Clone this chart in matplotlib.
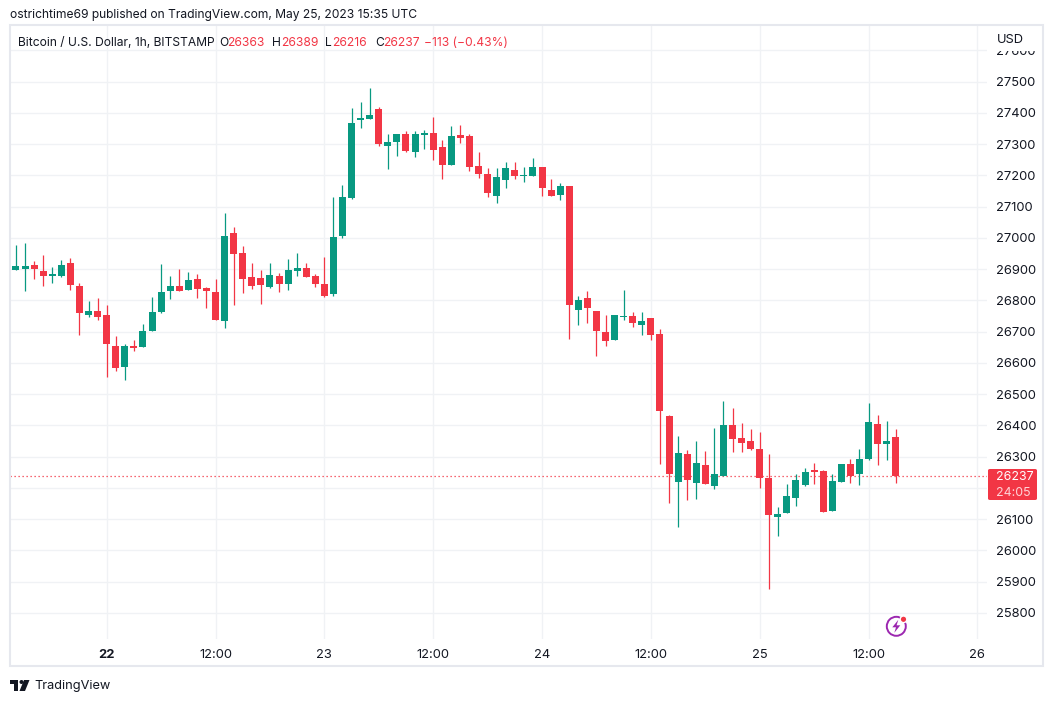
import numpy as np
import pandas as pd
import matplotlib
matplotlib.use("Agg")
import matplotlib.pyplot as plt
import matplotlib.dates as mdates
from matplotlib.patches import Rectangle, Ellipse, Polygon, FancyBboxPatch

W, H = 1053, 702

# BTC/USD 1h candles, BITSTAMP, from 2023-05-21 14:00 UTC
start = "2023-05-21 14:00"
opens = [26898, 26902, 26913, 26894, 26879, 26879, 26920, 26846, 26755, 26766,
         26753, 26654, 26588, 26654, 26652, 26703, 26764, 26831, 26846, 26835,
         26869, 26840, 26827, 26735, 27016, 26952, 26875, 26872, 26844, 26878,
         26854, 26895, 26904, 26878, 26853, 26821, 27007, 27129, 27379, 27382,
         27413, 27295, 27308, 27333, 27276, 27331, 27336, 27291, 27235, 27329,
         27326, 27230, 27205, 27135, 27187, 27217, 27199, 27199, 27227, 27153,
         27139, 27166, 26771, 26808, 26766, 26699, 26675, 26748, 26750, 26721,
         26744, 26693, 26430, 26220, 26309, 26217, 26273, 26207, 26239, 26401,
         26360, 26350, 26325, 26233, 26108, 26121, 26169, 26211, 26257, 26254,
         26127, 26220, 26277, 26243, 26291, 26405, 26339, 26363]
highs = [26977, 26984, 26926, 26945, 26907, 26929, 26936, 26855, 26798, 26807,
         26785, 26686, 26661, 26673, 26725, 26811, 26917, 26878, 26901, 26891,
         26885, 26843, 26869, 27080, 27035, 26974, 26920, 26897, 26920, 26888,
         26933, 26952, 26920, 26885, 26939, 27132, 27169, 27415, 27435, 27480,
         27419, 27333, 27333, 27342, 27342, 27345, 27388, 27313, 27358, 27363,
         27333, 27275, 27224, 27224, 27242, 27242, 27226, 27256, 27227, 27189,
         27176, 27166, 26814, 26830, 26766, 26753, 26753, 26833, 26763, 26763,
         26744, 26709, 26433, 26366, 26321, 26349, 26318, 26392, 26478, 26456,
         26408, 26389, 26379, 26309, 26139, 26213, 26245, 26264, 26280, 26257,
         26245, 26277, 26293, 26325, 26472, 26433, 26414, 26389]
lows = [26898, 26830, 26869, 26847, 26857, 26876, 26835, 26691, 26748, 26739,
        26556, 26575, 26547, 26639, 26652, 26703, 26760, 26805, 26831, 26834,
        26808, 26777, 26738, 26713, 26785, 26825, 26838, 26790, 26839, 26828,
        26835, 26879, 26876, 26844, 26812, 26815, 27000, 27124, 27353, 27381,
        27295, 27222, 27263, 27275, 27260, 27286, 27251, 27189, 27234, 27303,
        27215, 27193, 27132, 27113, 27161, 27190, 27180, 27199, 27135, 27135,
        27123, 26678, 26723, 26729, 26623, 26655, 26674, 26739, 26716, 26690,
        26675, 26278, 26153, 26076, 26161, 26166, 26213, 26198, 26239, 26316,
        26316, 26322, 26201, 25878, 26047, 26120, 26143, 26207, 26213, 26124,
        26127, 26219, 26217, 26211, 26290, 26275, 26291, 26216]
closes = [26910, 26910, 26902, 26879, 26886, 26913, 26851, 26761, 26766, 26748,
          26662, 26585, 26654, 26649, 26702, 26763, 26827, 26846, 26831, 26865,
          26838, 26831, 26739, 27006, 26950, 26870, 26847, 26851, 26881, 26854,
          26897, 26904, 26876, 26854, 26814, 27003, 27132, 27367, 27384, 27393,
          27302, 27307, 27333, 27278, 27333, 27337, 27283, 27235, 27326, 27321,
          27228, 27206, 27143, 27195, 27224, 27199, 27201, 27227, 27161, 27135,
          27166, 26786, 26801, 26777, 26703, 26671, 26753, 26751, 26729, 26734,
          26690, 26447, 26246, 26312, 26226, 26280, 26214, 26245, 26401, 26358,
          26345, 26323, 26233, 26114, 26117, 26174, 26225, 26251, 26251, 26124,
          26222, 26277, 26239, 26293, 26411, 26339, 26350, 26237]

tick_times = ["2023-05-22 00:00", "2023-05-22 12:00", "2023-05-23 00:00",
              "2023-05-23 12:00", "2023-05-24 00:00", "2023-05-24 12:00",
              "2023-05-25 00:00", "2023-05-25 12:00", "2023-05-26 00:00"]
tick_labels = ["22", "12:00", "23", "12:00", "24", "12:00", "25", "12:00", "26"]
price_ticks = list(range(25800, 27700, 100))

last_price = 26237
countdown = "24:05"

UP = "#089981"
DOWN = "#F23645"
TXT = "#131722"
GRID = "#F0F2F5"

plt.rcParams["font.family"] = ["Inter", "DejaVu Sans"]
FS = 9.3     # axis labels
FS_H = 8.7   # header lines


def fx(px):
    return px / W


def fy(py):
    return 1 - py / H


def dot(cx, cy, r, **kw):
    # round in pixels, whatever the figure aspect
    return Ellipse((fx(cx), fy(cy)), 2 * r / W, 2 * r / H,
                   transform=fig.transFigure, **kw)


fig = plt.figure(figsize=(W / 100, H / 100), dpi=100, facecolor="white")
ax = fig.add_axes([fx(10), fy(639), fx(987) - fx(10), fy(25) - fy(639)])

times = pd.date_range(start, periods=len(opens), freq="h")
x = mdates.date2num(times)
o = np.array(opens)
c = np.array(closes)
colors = np.where(c >= o, UP, DOWN)

ax.vlines(x, lows, highs, colors=colors, lw=0.9, zorder=3)
ax.bar(x, np.maximum(np.abs(c - o), 3), bottom=np.minimum(o, c),
       width=0.77 / 24, color=colors, lw=0, zorder=4)

ax.axhline(last_price, color=DOWN, lw=0.9, ls=(0, (1, 2.2)), zorder=2)

t0 = mdates.date2num(pd.Timestamp("2023-05-22"))
ax.set_xlim(t0 - 10.66 / 24, t0 + 97.06 / 24)
ax.set_ylim(25716.6, 27681.4)

ax.set_xticks(mdates.date2num(pd.to_datetime(tick_times)))
ax.set_xticklabels(tick_labels)
ax.get_xticklabels()[0].set_fontweight("bold")
ax.set_yticks(price_ticks)
# the scale label under the last-price box is hidden, as on the chart
ax.set_yticklabels(["" if abs(p - last_price) < 60 else str(p) for p in price_ticks])
ax.yaxis.tick_right()
ax.tick_params(axis="both", length=0, labelsize=FS, labelcolor=TXT)
ax.tick_params(axis="x", pad=7)
ax.tick_params(axis="y", pad=6.5)
ax.grid(True, color=GRID, lw=1)
ax.set_axisbelow(True)
for s in ax.spines.values():
    s.set_visible(False)

# outer frame of the chart pane
fig.add_artist(Rectangle((fx(10), fy(666)), fx(1043) - fx(10), fy(25) - fy(666),
                         fill=False, edgecolor="#E6E8EE", lw=1.5,
                         transform=fig.transFigure, zorder=1))
# price scale header hides most of the top label
fig.add_artist(Rectangle((fx(988), fy(50.5)), fx(1041) - fx(988), fy(27) - fy(50.5),
                         facecolor="white", edgecolor="none",
                         transform=fig.transFigure, zorder=5))
fig.text(fx(997), fy(40), "USD", fontsize=FS, color=TXT, va="center", zorder=6)

# last price label
fig.add_artist(FancyBboxPatch((fx(988), fy(500)), fx(1037) - fx(988), fy(469) - fy(500),
                              boxstyle="round,pad=0,rounding_size=0.002",
                              facecolor=DOWN, edgecolor="none",
                              transform=fig.transFigure, zorder=3))
fig.text(fx(996), fy(476.5), str(last_price), fontsize=8.9, color="white",
         va="center", zorder=4)
fig.text(fx(996), fy(492.5), countdown, fontsize=8.9, color="#FFD3D7",
         va="center", zorder=4)

# header lines
fig.text(fx(10), fy(15), "ostrichtime69 published on TradingView.com, May 25, 2023 15:35 UTC",
         fontsize=FS_H, color=TXT, va="center")
fig.text(fx(18), fy(43), "Bitcoin / U.S. Dollar, 1h, BITSTAMP", fontsize=FS_H,
         color=TXT, va="center", zorder=3)
parts = [(219, "O", TXT), (227.5, "26363", DOWN), (272, "H", TXT), (281.5, "26389", DOWN),
         (325.5, "L", TXT), (332.5, "26216", DOWN), (375, "C", TXT), (383, "26237", DOWN),
         (424.5, "\u2212113 (\u22120.43%)", DOWN)]
for px, s, col in parts:
    fig.text(fx(px), fy(43), s, fontsize=FS_H, color=col, va="center", zorder=3)

# replay / lightning icon
purple = "#9C27B0"
cx, cy = 896.3, 626.3
fig.add_artist(dot(cx, cy, 9.5, fill=False, edgecolor=purple, lw=1.4, zorder=3))
bolt = [(2.0, -6.5), (-4.0, 1.0), (-0.3, 1.0), (-2.0, 6.5), (4.0, -1.0), (0.3, -1.0)]
fig.add_artist(Polygon([(fx(cx + dx), fy(cy + dy)) for dx, dy in bolt], closed=True,
                       facecolor=purple, edgecolor="none",
                       transform=fig.transFigure, zorder=3))
fig.add_artist(dot(903.5, 619.3, 3.3, facecolor=DOWN, edgecolor="white", lw=1, zorder=4))

# TradingView logo
logo = dict(facecolor=TXT, edgecolor="none", transform=fig.transFigure)
fig.add_artist(Rectangle((fx(10), fy(684)), fx(18) - fx(10), fy(680) - fy(684), **logo))
fig.add_artist(Rectangle((fx(14), fy(691)), fx(18) - fx(14), fy(680) - fy(691), **logo))
fig.add_artist(dot(21.5, 682, 2.0, facecolor=TXT, edgecolor="none"))
fig.add_artist(Polygon([(fx(24), fy(680)), (fx(29.5), fy(680)), (fx(25), fy(691)),
                        (fx(19.5), fy(691))], closed=True, **logo))
fig.text(fx(34), fy(685.5), "TradingView", fontsize=9.2, color=TXT, va="center")

fig.savefig("out.png", dpi=100, facecolor="white")
